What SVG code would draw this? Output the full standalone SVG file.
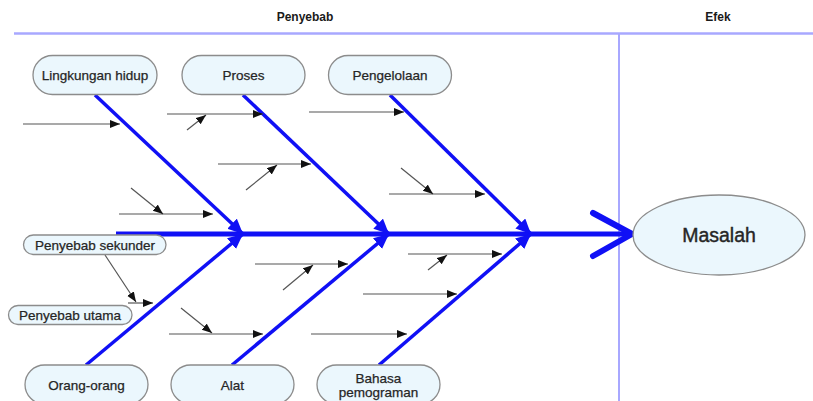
<svg xmlns="http://www.w3.org/2000/svg" width="813" height="401" viewBox="0 0 813 401">
<style>
.pill{fill:#ebf7fd;stroke:#8c8c8c;stroke-width:1.3}
.t{font-family:"Liberation Sans",Arial,sans-serif;font-size:13.5px;fill:#262626;stroke:#262626;stroke-width:0.25;text-anchor:middle;dominant-baseline:central}
.h{font-family:"Liberation Sans",Arial,sans-serif;font-size:12px;font-weight:bold;fill:#1a1a1a;text-anchor:middle}
.bone{stroke:#1010f5;stroke-width:3.5;fill:none;marker-end:url(#bh)}
.thin{stroke:#555;stroke-width:1.2;fill:none;marker-end:url(#ah)}
.frame{stroke:#a8a8ff;fill:none}
</style>
<defs>
<marker id="ah" markerUnits="userSpaceOnUse" markerWidth="12" markerHeight="10" refX="10" refY="4" orient="auto">
<path d="M0,0 L10,4 L0,8 Z" fill="#111"/>
</marker>
<marker id="bh" markerUnits="userSpaceOnUse" markerWidth="18" markerHeight="16" refX="15" refY="7" orient="auto">
<path d="M0,0 L15,7 L0,14 Z" fill="#1010f5"/>
</marker>
</defs>

<g id="frame">
<line class="frame" x1="14" y1="33.5" x2="813" y2="33.5" stroke-width="2.5"/>
<line class="frame" x1="619" y1="33" x2="619" y2="401" stroke-width="2"/>
<text class="h" x="305" y="21">Penyebab</text>
<text class="h" x="718" y="21">Efek</text>
</g>

<g id="connectors">
<line x1="116" y1="234" x2="630" y2="234" stroke="#1010f5" stroke-width="5"/>
<polyline points="593,213 632,234 593,256" stroke="#1010f5" stroke-width="6" fill="none" stroke-linecap="round" stroke-linejoin="round"/>
<line class="bone" x1="95" y1="95" x2="243" y2="234"/>
<line class="bone" x1="243" y1="95" x2="389" y2="234"/>
<line class="bone" x1="390" y1="95" x2="531" y2="234"/>
<line class="bone" x1="86" y1="365" x2="243" y2="234"/>
<line class="bone" x1="232" y1="365" x2="389" y2="234"/>
<line class="bone" x1="379" y1="365" x2="531" y2="234"/>

<line class="thin" x1="23" y1="124" x2="120" y2="124"/>
<line class="thin" x1="119" y1="214" x2="213" y2="214"/>
<line class="thin" x1="131" y1="188" x2="163" y2="214"/>
<line class="thin" x1="167" y1="114" x2="263" y2="114"/>
<line class="thin" x1="187" y1="130" x2="206" y2="115"/>
<line class="thin" x1="218" y1="164" x2="311" y2="164"/>
<line class="thin" x1="246" y1="190" x2="277" y2="165"/>
<line class="thin" x1="309" y1="112" x2="404" y2="112"/>
<line class="thin" x1="389" y1="194" x2="485" y2="194"/>
<line class="thin" x1="401" y1="168" x2="433" y2="194"/>

<line class="thin" x1="105" y1="255" x2="136" y2="302"/>
<line class="thin" x1="128" y1="303" x2="153" y2="303"/>
<line class="thin" x1="169" y1="334" x2="263" y2="334"/>
<line class="thin" x1="181" y1="308" x2="212" y2="333"/>
<line class="thin" x1="255" y1="264" x2="348" y2="264"/>
<line class="thin" x1="283" y1="290" x2="313" y2="265"/>
<line class="thin" x1="408" y1="254" x2="502" y2="254"/>
<line class="thin" x1="428" y1="270" x2="447" y2="255"/>
<line class="thin" x1="363" y1="294" x2="457" y2="294"/>
<line class="thin" x1="311" y1="334" x2="407" y2="334"/>
</g>

<g id="lingkungan">
<rect class="pill" x="33" y="55.5" width="124" height="39" rx="19.5"/>
<text class="t" x="95" y="75">Lingkungan hidup</text>
</g>
<g id="proses">
<rect class="pill" x="182" y="55.5" width="123" height="39" rx="19.5"/>
<text class="t" x="243.5" y="75">Proses</text>
</g>
<g id="pengelolaan">
<rect class="pill" x="328.5" y="55.5" width="123" height="39" rx="19.5"/>
<text class="t" x="390" y="75">Pengelolaan</text>
</g>
<g id="orang">
<rect class="pill" x="25" y="365" width="123" height="39" rx="19.5"/>
<text class="t" x="86.5" y="385">Orang-orang</text>
</g>
<g id="alat">
<rect class="pill" x="171" y="365" width="123" height="39" rx="19.5"/>
<text class="t" x="232.5" y="385">Alat</text>
</g>
<g id="bahasa">
<rect class="pill" x="317" y="365" width="123" height="39" rx="19.5"/>
<text class="t" x="378.5" y="378">Bahasa</text>
<text class="t" x="378.5" y="392">pemograman</text>
</g>
<g id="sekunder">
<rect class="pill" x="23.5" y="235" width="142.5" height="19.5" rx="9.75"/>
<text class="t" x="95" y="245">Penyebab sekunder</text>
</g>
<g id="utama">
<rect class="pill" x="8.5" y="305.5" width="123.5" height="19" rx="9.5"/>
<text class="t" x="70" y="315">Penyebab utama</text>
</g>
<g id="masalah">
<ellipse cx="719" cy="235" rx="86" ry="40" fill="#ebf7fd" stroke="#8c8c8c" stroke-width="1.3"/>
<text class="t" x="719" y="235" style="font-size:19.5px;stroke-width:0.4">Masalah</text>
</g>
</svg>
